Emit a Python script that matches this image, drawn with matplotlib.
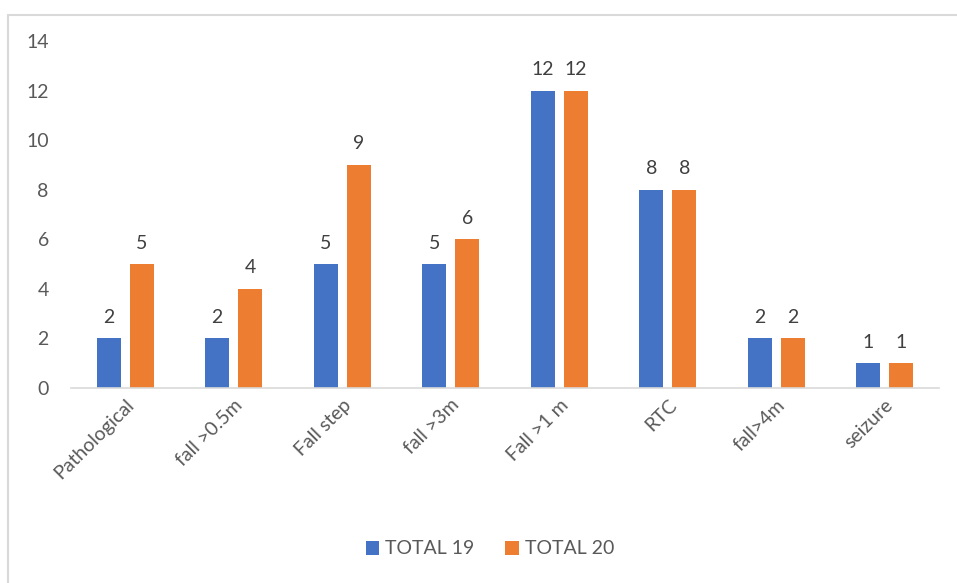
import matplotlib.pyplot as plt
import numpy as np
from matplotlib.patches import Rectangle

plt.rcParams['font.family'] = ['Lato', 'DejaVu Sans']

categories = ["Pathological", "fall >0.5m", "Fall step", "fall >3m",
              "Fall >1 m", "RTC", "fall>4m", "seizure"]
total_19 = [2, 2, 5, 5, 12, 8, 2, 1]
total_20 = [5, 4, 9, 6, 12, 8, 2, 1]

BLUE = "#4472C4"
ORANGE = "#ED7D31"
TEXT = "#595959"
FS = 14

fig = plt.figure(figsize=(9.57, 5.83), dpi=100)
ax = fig.add_axes([71 / 957, 1 - 388 / 583, (939 - 71) / 957, (388 - 41) / 583])

# chart area frame
fig.patches.append(Rectangle((8 / 957, -0.05), 1.0, 1 - 15 / 583 + 0.05,
                             transform=fig.transFigure, fill=False,
                             edgecolor="#d9d9d9", linewidth=1.5))

x = np.arange(len(categories))
w = 0.22
gap = 0.085
b1 = ax.bar(x - (w + gap) / 2, total_19, width=w, color=BLUE, label="TOTAL 19")
b2 = ax.bar(x + (w + gap) / 2, total_20, width=w, color=ORANGE, label="TOTAL 20")

for bars, vals in ((b1, total_19), (b2, total_20)):
    for rect, v in zip(bars, vals):
        ax.annotate(str(v), (rect.get_x() + rect.get_width() / 2, v),
                    xytext=(0, 9), textcoords="offset points",
                    ha="center", va="bottom", fontsize=FS, color="#404040")

ax.set_xlim(-0.5, len(categories) - 0.5)
ax.set_ylim(0, 14)
ax.set_yticks(range(0, 15, 2))
ax.tick_params(axis="y", length=0, pad=16, labelsize=FS, labelcolor=TEXT)
ax.tick_params(axis="x", length=0, pad=6, labelsize=FS, labelcolor=TEXT)
ax.set_xticks(x)
ax.set_xticklabels(categories, rotation=45, ha="right", rotation_mode="anchor")

for s in ("top", "right", "left"):
    ax.spines[s].set_visible(False)
ax.spines["bottom"].set_color("#d9d9d9")
ax.spines["bottom"].set_linewidth(1.2)

ax.legend(loc="center", bbox_to_anchor=(490 / 957, 1 - 549 / 583),
          bbox_transform=fig.transFigure, ncol=2, frameon=False,
          fontsize=FS, labelcolor=TEXT, handlelength=0.7, handleheight=0.7,
          handletextpad=0.3, columnspacing=1.6)

fig.savefig("out.png", dpi=100)
